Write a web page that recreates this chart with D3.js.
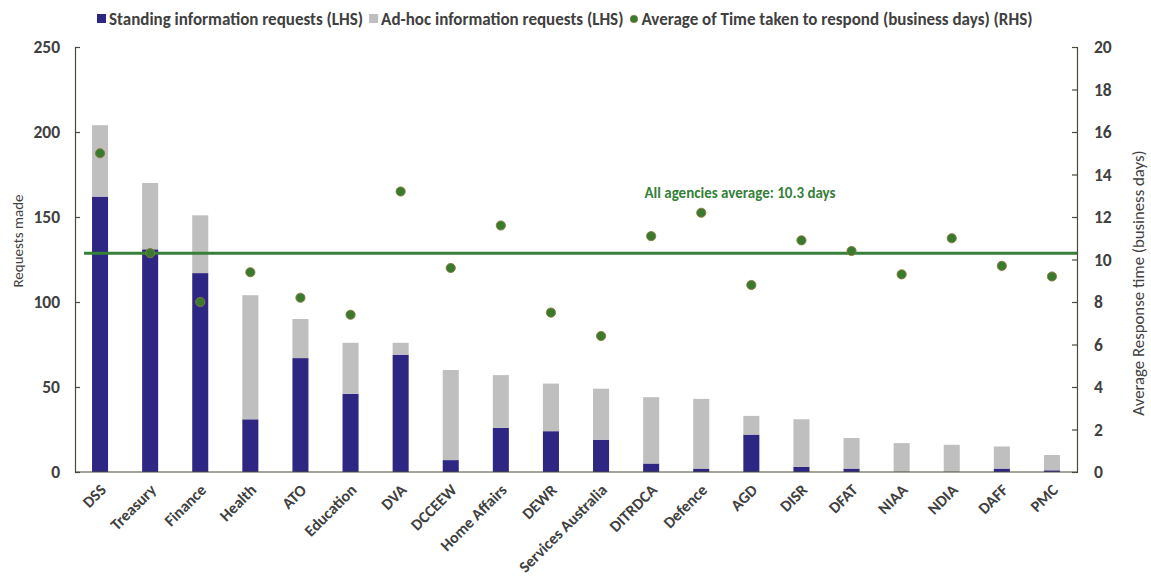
<!DOCTYPE html>
<html>
<head>
<meta charset="utf-8">
<script src="https://cdn.jsdelivr.net/npm/d3@7"></script>
<style>
  html, body { margin: 0; padding: 0; background: #fff; }
  svg { display: block; font-family: Carlito, "Liberation Sans Narrow", "Open Sans", sans-serif; }
</style>
</head>
<body>
<svg id="chart" width="1151" height="578"></svg>
<script>
// Agencies, ordered by total requests made
const agencies = ["DSS", "Treasury", "Finance", "Health", "ATO", "Education", "DVA", "DCCEEW",
  "Home Affairs", "DEWR", "Services Australia", "DITRDCA", "Defence", "AGD", "DISR", "DFAT",
  "NIAA", "NDIA", "DAFF", "PMC"];
// Standing information requests (LHS)
const standing = [162, 131, 117, 31, 67, 46, 69, 7, 26, 24, 19, 5, 2, 22, 3, 2, 0, 0, 2, 1];
// Ad-hoc information requests (LHS)
const adhoc = [42, 39, 34, 73, 23, 30, 7, 53, 31, 28, 30, 39, 41, 11, 28, 18, 17, 16, 13, 9];
// Average time taken to respond, business days (RHS)
const responseDays = [15.0, 10.3, 8.0, 9.4, 8.2, 7.4, 13.2, 9.6, 11.6, 7.5, 6.4, 11.1, 12.2, 8.8,
  10.9, 10.4, 9.3, 11.0, 9.7, 9.2];
// All agencies average response time
const averageDays = 10.3;
const leftTicks = [0, 50, 100, 150, 200, 250];
const rightTicks = [0, 2, 4, 6, 8, 10, 12, 14, 16, 18, 20];

const NAVY = "#2e2683", GREY = "#bfbfbf", GREEN = "#36803a", DOT = "#3a7a2e", TEXT = "#404040";

const svg = d3.select("#chart");
const m = { left: 75, right: 74, top: 47, bottom: 106 };
const W = 1151, H = 578;
const x0 = m.left, x1 = W - m.right, y0 = H - m.bottom, y1 = m.top;

const x = d3.scaleBand().domain(agencies).range([x0, x1]).paddingInner(0.68).paddingOuter(0.34);
const yL = d3.scaleLinear().domain([0, 250]).range([y0, y1]);
const yR = d3.scaleLinear().domain([0, 20]).range([y0, y1]);

const rows = agencies.map((a, i) => ({ agency: a, standing: standing[i], adhoc: adhoc[i], days: responseDays[i] }));
const stack = d3.stack().keys(["standing", "adhoc"])(rows);
const colours = { standing: NAVY, adhoc: GREY };

// Stacked bars
svg.append("g").selectAll("g").data(stack).join("g")
  .attr("fill", d => colours[d.key])
  .selectAll("rect").data(d => d).join("rect")
  .attr("x", d => x(d.data.agency))
  .attr("width", x.bandwidth())
  .attr("y", d => yL(d[1]))
  .attr("height", d => yL(d[0]) - yL(d[1]));

// Average line
svg.append("line")
  .attr("x1", x(agencies[0]) - 8).attr("x2", x1)
  .attr("y1", yR(averageDays)).attr("y2", yR(averageDays))
  .attr("stroke", GREEN).attr("stroke-width", 3);

svg.append("text")
  .attr("x", 740).attr("y", yR(averageDays) - 55)
  .attr("text-anchor", "middle")
  .attr("fill", GREEN).attr("font-weight", "bold").attr("font-size", 15)
  .text(`All agencies average: ${averageDays} days`);

// Response-time dots
svg.append("g").selectAll("circle").data(rows).join("circle")
  .attr("cx", d => x(d.agency) + x.bandwidth() / 2)
  .attr("cy", d => yR(d.days))
  .attr("r", 4.6)
  .attr("fill", DOT).attr("stroke", "#8a7a3a").attr("stroke-width", 0.9);

// Axes
const axisColour = "#4a4a3a";
const gL = svg.append("g").attr("transform", `translate(${x0},0)`)
  .call(d3.axisRight(yL).tickValues(leftTicks).tickSize(5).tickFormat(""));
const gR = svg.append("g").attr("transform", `translate(${x1},0)`)
  .call(d3.axisLeft(yR).tickValues(rightTicks).tickSize(5).tickFormat(""));
[gL, gR].forEach(g => {
  g.select(".domain").attr("stroke", axisColour).attr("stroke-width", 1.2);
  g.selectAll(".tick line").attr("stroke", axisColour).attr("stroke-width", 1.2);
});
svg.append("line").attr("x1", x0).attr("x2", x1).attr("y1", y0).attr("y2", y0)
  .attr("stroke", axisColour).attr("stroke-width", 1.2);

// Tick labels
svg.append("g").selectAll("text").data(leftTicks).join("text")
  .attr("x", 60).attr("y", d => yL(d)).attr("dy", "0.35em")
  .attr("text-anchor", "end").attr("font-size", 17.5).attr("font-weight", "bold").attr("fill", TEXT)
  .text(d => d);
svg.append("g").selectAll("text").data(rightTicks).join("text")
  .attr("x", 1094).attr("y", d => yR(d)).attr("dy", "0.35em")
  .attr("text-anchor", "start").attr("font-size", 17.5).attr("font-weight", "bold").attr("fill", TEXT)
  .text(d => d);

// Category labels
svg.append("g").selectAll("text").data(agencies).join("text")
  .attr("transform", d => `translate(${x(d) + x.bandwidth() / 2 + 7},${y0 + 19}) rotate(-45)`)
  .attr("text-anchor", "end").attr("font-size", 16).attr("font-weight", "bold").attr("fill", TEXT)
  .text(d => d);

// Axis titles
svg.append("text")
  .attr("transform", `translate(23,241) rotate(-90)`)
  .attr("text-anchor", "middle").attr("font-size", 15).attr("fill", TEXT)
  .text("Requests made");
svg.append("text")
  .attr("transform", `translate(1144,283) rotate(-90)`)
  .attr("text-anchor", "middle").attr("font-size", 16.8).attr("fill", TEXT)
  .text("Average Response time (business days)");

// Legend
const legendItems = [
  { label: "Standing information requests (LHS)", type: "square", colour: NAVY },
  { label: "Ad-hoc information requests (LHS)", type: "square", colour: GREY },
  { label: "Average of Time taken to respond (business days) (RHS)", type: "dot", colour: DOT }
];
const legend = svg.append("g").attr("transform", "translate(97,19)");
let lx = 0;
legendItems.forEach(item => {
  const g = legend.append("g").attr("transform", `translate(${lx},0)`);
  if (item.type === "square") {
    g.append("rect").attr("x", 0).attr("y", -5).attr("width", 9).attr("height", 9).attr("fill", item.colour);
  } else {
    g.append("circle").attr("cx", 4.5).attr("cy", 0).attr("r", 3.8).attr("fill", item.colour)
      .attr("stroke", "#8a7a3a").attr("stroke-width", 0.6);
  }
  const t = g.append("text").attr("x", 12).attr("y", 0).attr("dy", "0.35em")
    .attr("font-size", 17).attr("font-weight", "bold").attr("fill", TEXT).text(item.label);
  lx += 12 + t.node().getComputedTextLength() + 6;
});
</script>
</body>
</html>
